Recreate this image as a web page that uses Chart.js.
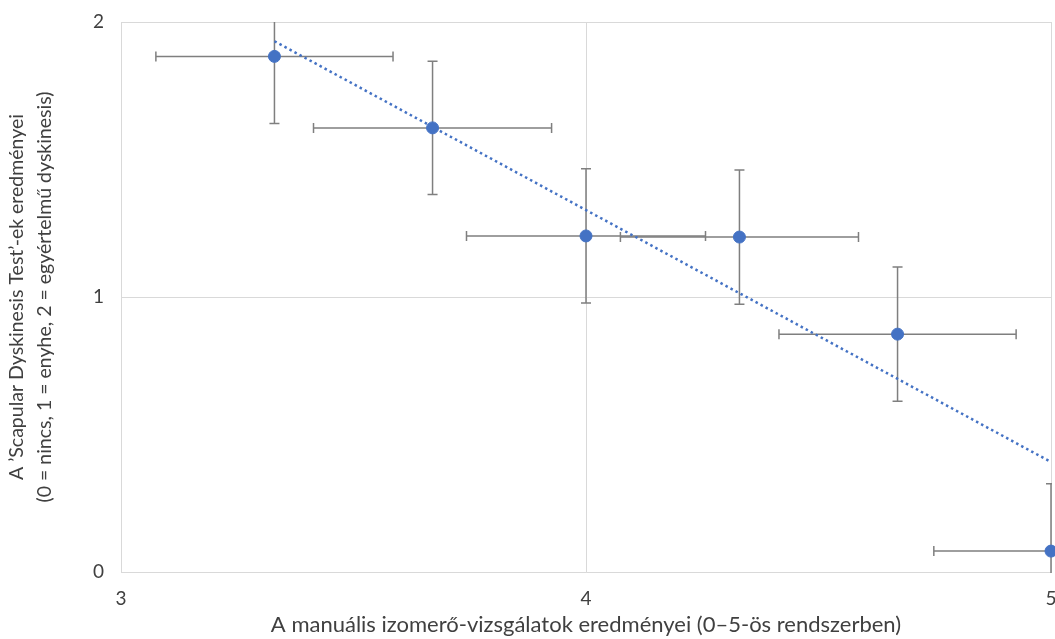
<!DOCTYPE html>
<html>
<head>
<meta charset="utf-8">
<script src="https://cdn.jsdelivr.net/npm/chart.js@4"></script>
<style>
  html, body { margin: 0; padding: 0; background: #ffffff; }
  #wrap { width: 1055px; height: 639px; }
</style>
</head>
<body>
<div id="wrap"><canvas id="chart" width="1055" height="639"></canvas></div>
<script>
const muscle_scores = [3.33, 3.67, 4.0, 4.33, 4.67, 5.0]
const sdt_scores = [1.875, 1.615, 1.222, 1.218, 0.865, 0.076]
const muscle_err = [0.255, 0.256, 0.257, 0.256, 0.255, 0.252]
const sdt_err = [0.244, 0.242, 0.244, 0.244, 0.244, 0.245]
const trend_x = [3.33, 5.0]
const trend_y = [1.93, 0.40]

const x_title = 'A manuális izomerő-vizsgálatok eredményei (0–5-ös rendszerben)'
const y_title = ['A ’Scapular Dyskinesis Test’-ek eredményei', '(0 = nincs, 1 = enyhe, 2 = egyértelmű dyskinesis)']

const font_family = 'Lato, "Open Sans", sans-serif'
const text_color = '#404040'
const grid_color = '#d9d9d9'
const blue = '#4472c4'

const error_bars = {
    id: 'errorBars',
    beforeDatasetsDraw: (chart) => {
        const { ctx, chartArea, scales } = chart
        const cap = 5
        ctx.save()
        ctx.beginPath()
        ctx.rect(chartArea.left, chartArea.top, chartArea.right - chartArea.left + 1, chartArea.bottom - chartArea.top + 1)
        ctx.clip()
        ctx.strokeStyle = '#7f7f7f'
        ctx.lineWidth = 1.5
        muscle_scores.forEach((xv, i) => {
            const px = scales.x.getPixelForValue(xv)
            const py = scales.y.getPixelForValue(sdt_scores[i])
            const x0 = scales.x.getPixelForValue(xv - muscle_err[i])
            const x1 = scales.x.getPixelForValue(xv + muscle_err[i])
            const y0 = scales.y.getPixelForValue(sdt_scores[i] - sdt_err[i])
            const y1 = scales.y.getPixelForValue(sdt_scores[i] + sdt_err[i])
            ctx.beginPath()
            ctx.moveTo(x0, py); ctx.lineTo(x1, py)
            ctx.moveTo(x0, py - cap); ctx.lineTo(x0, py + cap)
            ctx.moveTo(x1, py - cap); ctx.lineTo(x1, py + cap)
            ctx.moveTo(px, y0); ctx.lineTo(px, y1)
            ctx.moveTo(px - cap, y0); ctx.lineTo(px + cap, y0)
            ctx.moveTo(px - cap, y1); ctx.lineTo(px + cap, y1)
            ctx.stroke()
        })
        ctx.restore()
    }
}

new Chart(document.getElementById('chart'), {
    type: 'scatter',
    data: {
        datasets: [
            {
                label: 'Eredmények',
                data: muscle_scores.map((x, i) => ({ x: x, y: sdt_scores[i] })),
                backgroundColor: blue,
                borderColor: blue,
                pointRadius: 6,
                pointHoverRadius: 6,
                clip: false,
            },
            {
                label: 'Trend',
                type: 'line',
                data: trend_x.map((x, i) => ({ x: x, y: trend_y[i] })),
                borderColor: blue,
                borderWidth: 2.5,
                borderDash: [2.5, 3.2],
                pointRadius: 0,
                fill: false,
                clip: false,
            }
        ]
    },
    options: {
        responsive: false,
        animation: false,
        layout: { autoPadding: false, padding: { top: 22, right: 4, left: 0, bottom: 0 } },
        plugins: {
            legend: { display: false },
            tooltip: { enabled: false },
        },
        scales: {
            x: {
                type: 'linear',
                min: 3,
                max: 5,
                ticks: {
                    stepSize: 1,
                    padding: 15,
                    color: text_color,
                    font: { family: font_family, size: 19 },
                },
                grid: { color: grid_color, drawTicks: false, lineWidth: 1 },
                border: { color: grid_color },
                title: {
                    display: true,
                    text: x_title,
                    color: text_color,
                    font: { family: font_family, size: 22 },
                    padding: { top: 0, bottom: 1 },
                },
                afterFit: (scale) => {
                    scale.height = 67
                    scale.paddingLeft = 0
                    scale.paddingRight = 0
                },
            },
            y: {
                type: 'linear',
                min: 0,
                max: 2,
                ticks: {
                    stepSize: 1,
                    padding: 17,
                    color: text_color,
                    font: { family: font_family, size: 19 },
                },
                grid: { color: grid_color, drawTicks: false, lineWidth: 1 },
                border: { color: grid_color },
                title: {
                    display: true,
                    text: y_title,
                    color: text_color,
                    font: { family: font_family, size: 19.5, lineHeight: 1.436 },
                    padding: { top: 3, bottom: 0 },
                },
                afterFit: (scale) => {
                    scale.width = 121
                    scale.paddingTop = 0
                    scale.paddingBottom = 0
                },
            }
        }
    },
    plugins: [error_bars],
})
</script>
</body>
</html>
